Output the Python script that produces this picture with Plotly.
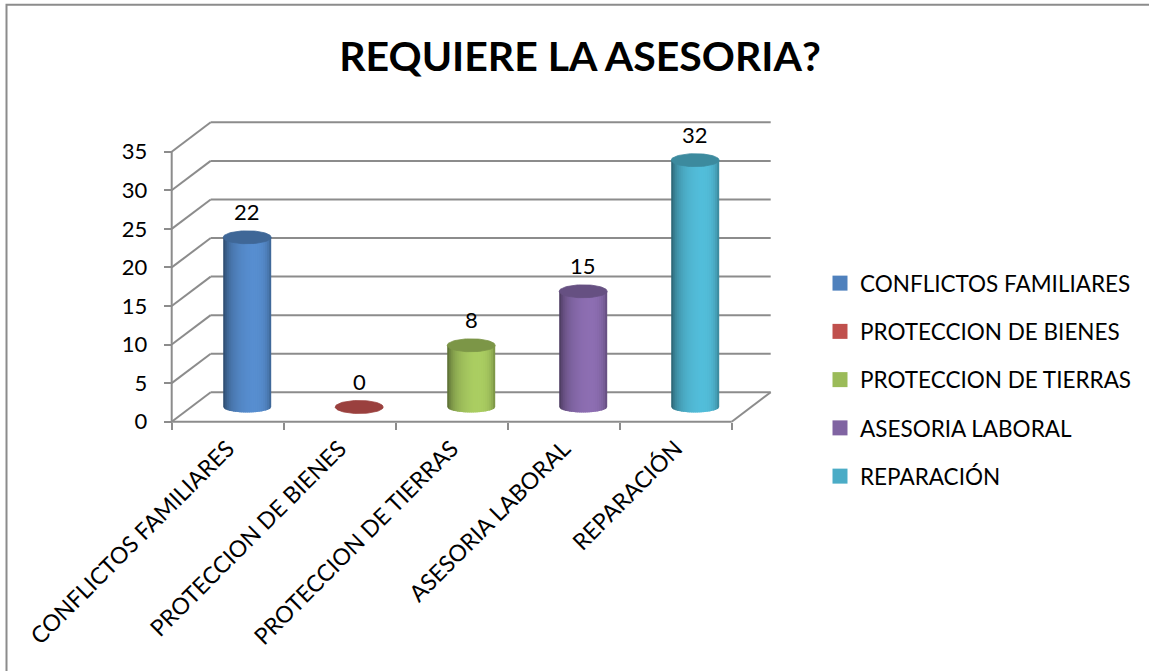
import numpy as np
import plotly.graph_objects as go

# ---- data -------------------------------------------------------------
categories = ["CONFLICTOS FAMILIARES", "PROTECCION DE BIENES",
              "PROTECCION DE TIERRAS", "ASESORIA LABORAL", "REPARACIÓN"]
values = [22, 0, 8, 15, 32]
colors = ["#4F81BD", "#C0504D", "#9BBB59", "#8064A2", "#4BACC6"]
y_ticks = [0, 5, 10, 15, 20, 25, 30, 35]
title_text = "REQUIERE LA ASESORIA?"

# ---- page / frame geometry (pixels) ----------------------------------
W, H = 1149, 671
ORIGIN_X, ORIGIN_Y = 171.7, 421.7      # front-left corner of the floor
PX_PER_CAT = 112.0                     # width of one category slot
PX_PER_UNIT = 7.714                    # pixels per value unit
DEPTH_X_PX, DEPTH_Y_PX = 39.0, 29.4    # offset of the back wall
BAR_HALF_PX = 24.0
TOP_B_PX, BOT_B_PX = 6.5, 5.5          # half heights of the cap / base ellipses
DOM_X_PX = (158, 792)
DOM_Y_PX = (100, 434)                  # top, bottom

FONT = "Lato"
GRID = "#8C8C8C"


def px_to_x(px):
    return -0.5 + (px - ORIGIN_X) / PX_PER_CAT


def px_to_y(py):
    return (ORIGIN_Y - py) / PX_PER_UNIT


DX = DEPTH_X_PX / PX_PER_CAT
DY = DEPTH_Y_PX / PX_PER_UNIT
A = BAR_HALF_PX / PX_PER_CAT
B_TOP = TOP_B_PX / PX_PER_UNIT
B_BOT = BOT_B_PX / PX_PER_UNIT
BASE = DY / 2.0                        # bars stand in the middle of the floor
n_cat = len(categories)

x_range = [px_to_x(DOM_X_PX[0]), px_to_x(DOM_X_PX[1])]
y_range = [px_to_y(DOM_Y_PX[1]), px_to_y(DOM_Y_PX[0])]


def shade(hex_color, f):
    h = hex_color.lstrip("#")
    rgb = [int(h[i:i + 2], 16) for i in (0, 2, 4)]
    rgb = [max(0, min(255, int(round(c * f)))) for c in rgb]
    return "rgb({},{},{})".format(*rgb)


def light(t):
    # simple diffuse lighting across the cylinder (t = -1 left .. 1 right)
    nz = np.sqrt(max(0.0, 1 - t * t))
    d = (0.3 * t + nz) / np.hypot(0.3, 1.0)
    f = 0.70 + 0.40 * max(d, 0.0)
    return f * (1 - 0.15 * abs(t) ** 6)


fig = go.Figure()

# ---- cylinders ---------------------------------------------------------
N_STRIPS = 24
OVERLAP = 0.05                         # strips overlap a little to hide seams
for i, (v, col) in enumerate(zip(values, colors)):
    xc = i + DX / 2.0
    top = BASE + v
    edges = np.linspace(-1, 1, N_STRIPS + 1)
    for k in range(N_STRIPS):
        t0, t1 = edges[k], min(1.0, edges[k + 1] + OVERLAP)
        ts = np.linspace(t1, t0, 4)
        bx = xc + A * ts
        by = BASE - B_BOT * np.sqrt(np.clip(1 - ts ** 2, 0, None))
        px = [xc + A * t0, xc + A * t1] + list(bx) + [xc + A * t0]
        py = [top, top] + list(by) + [top]
        c = shade(col, light((edges[k] + edges[k + 1]) / 2))
        fig.add_trace(go.Scatter(
            x=px, y=py, mode="lines", fill="toself", fillcolor=c,
            line=dict(color=c, width=0), hoverinfo="skip", showlegend=False))
    th = np.linspace(0, 2 * np.pi, 90)
    cap = shade(col, 0.80)
    fig.add_trace(go.Scatter(
        x=xc + A * np.cos(th), y=top + B_TOP * np.sin(th), mode="lines",
        fill="toself", fillcolor=cap, line=dict(color=cap, width=0.8),
        hoverinfo="skip", showlegend=False))

# ---- legend entries ----------------------------------------------------
for i, (name, col) in enumerate(zip(categories, colors)):
    fig.add_trace(go.Scatter(
        x=[None], y=[None], xaxis="x2", mode="markers", name=name,
        legendgroup=str(i),
        marker=dict(symbol="square", size=15, color=col),
        hoverinfo="skip"))

# ---- 3D frame: walls, floor and front axis lines ---------------------
shapes = []


def seg(x0, y0, x1, y1):
    shapes.append(dict(type="line", xref="x", yref="y", x0=x0, y0=y0,
                       x1=x1, y1=y1, line=dict(color=GRID, width=2),
                       layer="below"))


left = -0.5
right = n_cat - 0.5
for t in y_ticks:
    seg(left + DX, t + DY, right + DX, t + DY)     # back wall grid line
    seg(left, t, left + DX, t + DY)                # side wall diagonal
seg(left, 0, right, 0)                             # front floor edge
seg(right, 0, right + DX, DY)                      # right floor edge
seg(left, 0, left, y_ticks[-1])                    # vertical value axis

# outer chart border
shapes.append(dict(type="rect", xref="paper", yref="paper",
                   x0=6.5 / W, x1=1.02, y0=-0.02, y1=1 - 4.7 / H,
                   line=dict(color="#8C8C8C", width=2), layer="below"))

# ---- value labels ------------------------------------------------------
annotations = []
for i, v in enumerate(values):
    annotations.append(dict(
        x=i + DX / 2.0, y=BASE + v, xref="x", yref="y", text=str(v),
        showarrow=False, yshift=26, font=dict(family=FONT, size=22, color="black")))

axis_pos_y = 1 - ORIGIN_Y / H
axis_pos_x = ORIGIN_X / W

fig.update_layout(
    width=W, height=H,
    margin=dict(l=0, r=0, t=0, b=0),
    paper_bgcolor="white", plot_bgcolor="rgba(0,0,0,0)",
    font=dict(family=FONT, color="black"),
    title=dict(text="<b>" + title_text + "</b>", x=580 / W, y=1 - 57 / H,
               xanchor="center", yanchor="middle",
               font=dict(family=FONT, size=41, color="black")),
    xaxis=dict(domain=[DOM_X_PX[0] / W, DOM_X_PX[1] / W], range=x_range,
               anchor="free", position=axis_pos_y,
               tickmode="array", tickvals=[k - 0.5 for k in range(n_cat + 1)],
               ticks="outside", ticklen=7, tickwidth=2, tickcolor=GRID,
               showticklabels=False, showgrid=False, zeroline=False,
               showline=False, fixedrange=True, automargin=False),
    xaxis2=dict(overlaying="x", range=x_range, anchor="free",
                position=axis_pos_y,
                domain=[DOM_X_PX[0] / W, DOM_X_PX[1] / W],
                tickmode="array", tickvals=list(range(n_cat)),
                ticktext=categories, tickangle=-45, ticks="",
                tickfont=dict(family=FONT, size=23, color="black"),
                ticklabelstandoff=8,
                showgrid=False, zeroline=False, showline=False,
                automargin=False),
    yaxis=dict(domain=[1 - DOM_Y_PX[1] / H, 1 - DOM_Y_PX[0] / H],
               range=y_range, anchor="free", position=axis_pos_x,
               tickmode="array", tickvals=y_ticks,
               ticks="outside", ticklen=8, tickwidth=2, tickcolor=GRID,
               tickfont=dict(family=FONT, size=22, color="black"),
               ticklabelstandoff=12, automargin=False,
               showgrid=False, zeroline=False, showline=False),
    legend=dict(x=1137 / W, y=1 - 380 / H, xanchor="right", yanchor="middle",
                font=dict(family=FONT, size=22.5, color="black"),
                tracegroupgap=16, bgcolor="rgba(0,0,0,0)"),
    showlegend=True,
    shapes=shapes,
    annotations=annotations,
)

fig.write_html("out.html")
